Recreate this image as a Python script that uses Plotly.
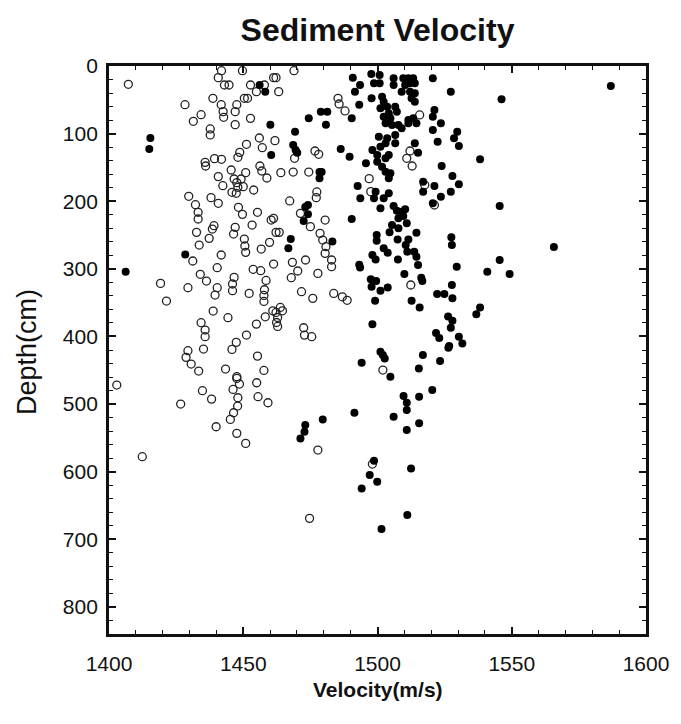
import plotly.graph_objects as go

# ---- data: open circles (velocity m/s, depth cm) ----
open_v = [1407.2, 1441.9, 1440.7, 1449.7, 1443.0, 1444.7, 1428.3, 1438.7, 1441.8, 1442.5, 1442.7, 1447.6, 1447.0,
          1434.3, 1431.4, 1447.0, 1437.7, 1437.7, 1448.7, 1448.0, 1435.8, 1436.0, 1439.3, 1441.9, 1445.5, 1440.7,
          1446.6, 1447.6, 1449.2, 1442.4, 1448.0, 1445.8, 1447.4, 1429.7, 1438.0, 1432.2, 1440.7,
          1461.3, 1462.2, 1468.9, 1452.7, 1454.9, 1457.9, 1463.2, 1450.4, 1451.6, 1452.7, 1485.3, 1485.7, 1487.9,
          1456.0, 1461.8, 1451.2, 1457.1, 1476.7, 1478.1, 1469.1, 1456.2, 1456.9, 1450.9, 1458.8, 1464.0, 1468.6,
          1474.4, 1450.0, 1453.9, 1477.4, 1477.2, 1467.3, 1496.9,
          1515.7, 1512.1, 1510.9, 1512.9, 1517.6, 1497.5,
          1433.2, 1433.2, 1439.1, 1438.5, 1448.2, 1449.7, 1447.0, 1446.4, 1432.6, 1437.3, 1433.6, 1441.8, 1431.2,
          1440.3, 1434.0, 1436.3, 1419.2, 1429.4, 1440.3, 1439.5, 1446.6, 1446.0, 1446.0, 1421.4, 1438.8, 1444.3,
          1434.3, 1435.8, 1435.8, 1447.4,
          1455.3, 1453.3, 1460.4, 1461.3, 1462.2, 1463.4, 1459.8, 1450.4, 1450.6, 1450.9, 1456.7, 1471.3, 1475.0,
          1480.5, 1478.6, 1479.6, 1480.8, 1480.5, 1482.9, 1482.9, 1461.3, 1468.3, 1473.2, 1453.7, 1456.5, 1470.3,
          1467.9, 1477.8, 1458.5, 1457.9, 1457.7, 1457.7, 1452.2, 1471.7, 1475.9, 1483.7, 1486.9, 1488.7, 1461.0,
          1462.2, 1463.8, 1464.6, 1462.8, 1462.4, 1462.8, 1458.2, 1454.9, 1472.5, 1472.8, 1475.5, 1451.2,
          1521.2, 1512.4,
          1429.4, 1428.7, 1430.6, 1433.4, 1435.2, 1445.8, 1455.3, 1443.4, 1447.6, 1447.6, 1448.6, 1457.7, 1455.0,
          1402.9, 1434.8, 1446.2, 1438.2, 1448.0, 1447.9, 1455.5, 1459.2, 1426.7, 1446.4, 1445.2, 1439.9, 1447.6,
          1450.9, 1412.4,
          1502.0, 1477.8, 1474.7, 1498.1]
open_d = [27.1, 6.9, 17.2, 6.9, 28.1, 28.1, 57.2, 47.8, 57.2, 67.5, 75.9, 57.2, 67.5,
          72.0, 81.8, 86.7, 93.1, 102.0, 127.7, 135.0, 142.5, 147.9, 137.0, 138.0, 153.8, 163.6,
          167.1, 172.5, 167.1, 177.0, 179.4, 186.8, 188.3, 192.7, 194.7, 205.1, 203.1,
          17.2, 17.2, 6.9, 28.1, 37.9, 28.1, 37.9, 47.8, 47.8, 77.4, 47.8, 56.2, 66.5,
          106.5, 110.4, 115.8, 120.8, 125.7, 130.6, 136.5, 147.9, 155.3, 157.7, 165.6, 157.7, 156.8,
          156.8, 178.4, 183.4, 186.3, 194.7, 199.6, 166.6,
          72.4, 125.7, 136.5, 147.9, 176.0, 185.8,
          216.4, 226.3, 236.2, 241.1, 209.0, 219.4, 238.6, 248.5, 246.0, 254.9, 264.8, 279.5, 288.4,
          298.3, 308.1, 318.0, 321.5, 327.9, 327.9, 338.7, 312.6, 322.4, 332.3, 347.6, 362.4, 372.2,
          379.6, 390.5, 400.3, 408.7,
          216.4, 235.2, 227.8, 225.3, 246.0, 246.0, 260.8, 255.9, 266.2, 275.6, 270.7, 217.9, 237.6,
          227.8, 247.5, 257.4, 267.2, 277.1, 286.9, 296.8, 292.9, 290.4, 286.9, 300.7, 302.7, 303.2,
          313.1, 306.7, 317.1, 330.9, 339.3, 348.2, 336.3, 333.8, 343.6, 336.4, 341.3, 346.5, 362.0,
          364.5, 357.1, 362.0, 371.9, 379.3, 385.2, 370.9, 381.7, 387.1, 398.0, 400.3, 397.9,
          205.6, 323.9,
          421.0, 430.9, 440.8, 451.1, 418.6, 419.1, 429.0, 448.2, 459.5, 462.0, 470.4, 450.2, 468.4,
          471.8, 480.2, 478.3, 492.6, 490.6, 502.9, 489.1, 498.0, 499.9, 512.8, 522.6, 533.5, 543.3,
          558.1, 577.8,
          449.7, 568.0, 669.0, 588.7]

# ---- data: filled circles (velocity m/s, depth cm) ----
filled_v = [1415.4, 1415.0,
            1456.1, 1458.2, 1490.8, 1493.5, 1491.6, 1493.2, 1478.9, 1481.3, 1474.4, 1480.8, 1490.4, 1460.1,
            1469.3, 1468.6, 1469.5, 1470.1, 1460.4, 1486.3, 1489.6, 1495.7, 1478.4, 1478.4, 1479.2, 1492.6, 1493.6,
            1497.7, 1500.8, 1506.0, 1509.6, 1511.5, 1513.3, 1520.6, 1498.7, 1500.8, 1506.0, 1510.3, 1512.1, 1513.9,
            1509.0, 1512.1, 1513.9, 1527.3, 1497.8, 1501.7, 1502.3, 1512.7, 1513.9, 1546.2, 1501.1, 1503.6, 1506.6,
            1507.2, 1504.2, 1502.3, 1504.8, 1511.5, 1513.3, 1520.6, 1521.2, 1503.0, 1505.4, 1507.8, 1509.0, 1511.5,
            1514.5, 1523.6, 1520.6, 1529.7, 1500.5, 1503.6, 1506.6, 1503.0, 1501.1, 1506.6, 1513.9, 1522.4, 1528.5,
            1530.3, 1498.1, 1499.9, 1504.2, 1503.0, 1515.1, 1538.2, 1499.9, 1501.7, 1503.0, 1523.9, 1504.2, 1504.8,
            1527.9, 1517.0, 1521.2, 1530.3, 1499.3, 1502.3, 1498.7, 1504.2, 1517.0, 1523.6, 1527.3, 1520.6,
            1428.4, 1406.2,
            1474.1, 1473.1, 1474.1, 1472.5, 1467.7, 1466.8, 1483.2, 1490.4, 1493.2, 1493.5,
            1501.1, 1506.0, 1507.2, 1509.0, 1510.3, 1509.6, 1507.8, 1510.9, 1505.4, 1507.8, 1545.5, 1504.5, 1514.5,
            1499.7, 1499.7, 1507.5, 1511.5, 1510.5, 1511.1, 1502.3, 1503.8, 1498.1, 1499.3, 1513.7, 1514.5, 1515.1,
            1507.6, 1527.5, 1527.7, 1545.5, 1529.5, 1540.9, 1510.0, 1516.3, 1516.7, 1497.5, 1499.5, 1497.8, 1503.8,
            1501.1, 1527.7, 1499.1, 1512.7, 1515.7, 1522.2, 1524.9, 1527.9, 1538.2, 1536.8, 1526.3, 1527.9, 1527.3,
            1498.1, 1521.8, 1523.0, 1530.3, 1531.6, 1526.7,
            1473.1, 1472.8, 1471.3, 1479.6, 1491.4, 1494.1, 1501.1, 1502.0, 1502.7, 1504.8, 1515.4, 1516.9, 1523.3,
            1526.4, 1520.4, 1509.7, 1510.9, 1510.9, 1515.5, 1506.0, 1515.5, 1510.9, 1498.7, 1497.1, 1499.9, 1494.1,
            1512.5, 1511.1, 1501.5,
            1549.2, 1565.7, 1586.9]
filled_d = [106.5, 122.7,
            28.1, 37.9, 17.2, 28.1, 37.9, 57.2, 67.5, 67.5, 77.4, 86.7, 77.4, 86.7,
            97.1, 116.8, 124.2, 128.2, 131.6, 122.7, 134.1, 143.9, 156.8, 166.1, 156.8, 177.4, 195.7,
            11.8, 13.3, 18.2, 18.2, 18.2, 18.2, 18.2, 25.6, 25.6, 28.1, 28.1, 25.6, 25.6,
            37.9, 37.9, 40.4, 37.9, 47.8, 45.3, 52.7, 47.8, 52.7, 49.3, 62.6, 60.1, 60.1,
            67.5, 70.0, 74.9, 77.4, 79.8, 77.4, 74.9, 65.0, 84.8, 87.2, 87.2, 92.2, 84.8,
            84.8, 84.8, 94.6, 97.1, 104.5, 107.0, 102.0, 114.4, 119.3, 114.4, 114.4, 111.9, 107.0,
            118.3, 124.2, 131.6, 131.6, 136.5, 128.2, 138.0, 141.5, 148.9, 156.3, 147.9, 166.1, 158.7,
            162.7, 171.1, 177.4, 175.0, 185.8, 195.7, 195.7, 188.3, 185.8, 193.2, 185.8, 203.1,
            278.6, 304.2,
            205.6, 208.4, 219.2, 229.1, 255.9, 269.7, 259.4, 226.4, 294.0, 297.9,
            210.5, 207.1, 214.0, 215.5, 212.0, 221.9, 225.3, 232.7, 235.2, 240.1, 207.1, 246.0, 246.5,
            250.0, 258.3, 256.4, 256.4, 264.8, 274.6, 269.7, 276.1, 279.5, 286.0, 274.6, 282.0, 294.3,
            286.0, 253.4, 264.8, 286.9, 296.8, 304.2, 307.6, 313.1, 318.0, 315.5, 318.0, 326.4, 327.4,
            332.3, 323.9, 347.1, 347.1, 357.0, 337.2, 337.2, 343.6, 357.0, 367.3, 370.4, 376.7, 387.0,
            382.1, 395.0, 402.4, 400.5, 410.3, 414.1,
            531.0, 540.9, 550.7, 522.6, 512.8, 438.8, 422.5, 427.5, 432.4, 459.5, 447.2, 427.5, 436.3,
            416.6, 479.2, 488.1, 498.0, 508.8, 489.1, 518.7, 528.5, 538.4, 583.8, 605.0, 614.8, 624.7,
            595.1, 664.1, 684.8,
            307.6, 267.7, 29.6]

x_ticks = [1400, 1450, 1500, 1550, 1600]
y_ticks = [0, 100, 200, 300, 400, 500, 600, 700, 800]

FONT = "Liberation Sans, Arial, Helvetica, sans-serif"
INK = "#111111"

fig = go.Figure()
fig.add_trace(go.Scatter(
    x=open_v, y=open_d, mode="markers", name="open",
    marker=dict(symbol="circle-open", size=8, color="#222222", line=dict(width=1.3, color="#222222")),
    showlegend=False, hoverinfo="x+y"))
fig.add_trace(go.Scatter(
    x=filled_v, y=filled_d, mode="markers", name="filled",
    marker=dict(symbol="circle", size=8, color="#000000", line=dict(width=0)),
    showlegend=False, hoverinfo="x+y"))

axis_common = dict(
    showline=True, linecolor=INK, linewidth=2.8, mirror="allticks",
    ticks="inside", ticklen=7, tickwidth=1.6, tickcolor=INK,
    showgrid=False, zeroline=False,
    tickfont=dict(family=FONT, size=21, color=INK),
)

fig.update_xaxes(range=[1400, 1600], tickvals=x_ticks, ticktext=[str(v) for v in x_ticks],
                 minor=dict(dtick=10, ticks="inside", ticklen=4, tickwidth=1.3, tickcolor=INK, showgrid=False),
                 ticklabelstandoff=9, **axis_common)
fig.update_yaxes(range=[840, 0], tickvals=y_ticks, ticktext=[str(v) for v in y_ticks],
                 minor=dict(dtick=20, ticks="inside", ticklen=4, tickwidth=1.3, tickcolor=INK, showgrid=False),
                 ticklabelstandoff=4, **axis_common)

fig.update_layout(
    width=681, height=724,
    margin=dict(l=109, r=24, t=66, b=90),
    paper_bgcolor="white", plot_bgcolor="white",
    title=dict(text="<b>Sediment Velocity</b>", x=0.5, xref="paper", xanchor="center",
               y=1 - 30 / 724, yref="container", yanchor="middle",
               font=dict(family=FONT, size=32, color=INK)),
    annotations=[
        dict(text="Depth(cm)", xref="paper", yref="paper", x=-0.153, y=0.496, showarrow=False,
             textangle=-90, xanchor="center", yanchor="middle",
             font=dict(family=FONT, size=27, color=INK)),
        dict(text="<b>Velocity(m/s)</b>", xref="paper", yref="paper", x=0.5, y=-0.097, showarrow=False,
             xanchor="center", yanchor="middle",
             font=dict(family=FONT, size=21, color=INK)),
    ],
)

fig.write_html("out.html")
